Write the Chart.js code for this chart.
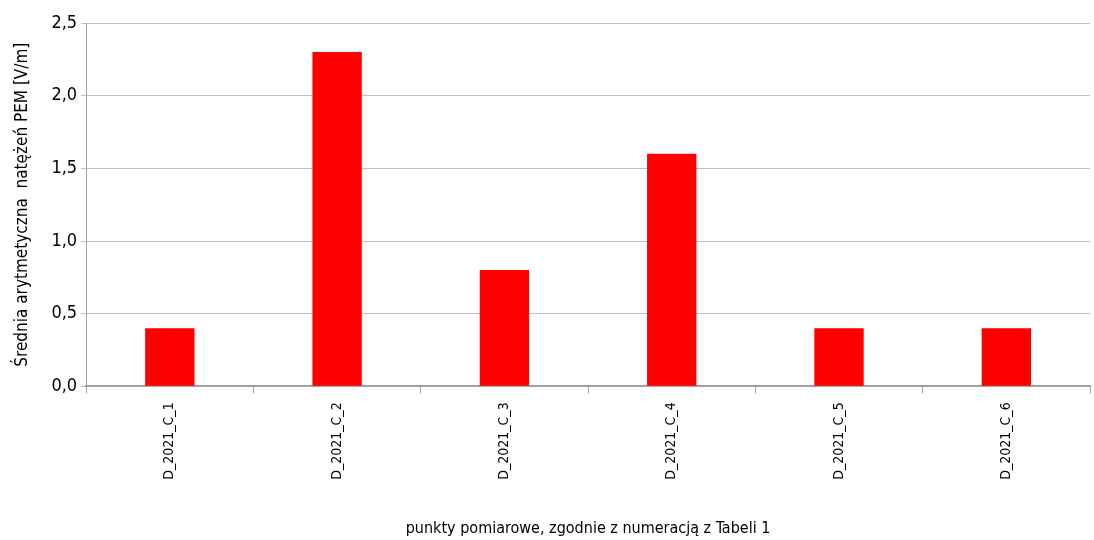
<!DOCTYPE html>
<html>
<head>
<meta charset="utf-8">
<script src="https://cdn.jsdelivr.net/npm/chart.js@4/dist/chart.umd.min.js"></script>
<style>
  html, body { margin: 0; padding: 0; background: #fff; }
  #wrap { width: 1094px; height: 540px; }
</style>
</head>
<body>
<div id="wrap"><canvas id="chart" width="1094" height="540"></canvas></div>
<script>
const categories = ['D_2021_C_1', 'D_2021_C_2', 'D_2021_C_3', 'D_2021_C_4', 'D_2021_C_5', 'D_2021_C_6'];
const meanValues = [0.4, 2.3, 0.8, 1.6, 0.4, 0.4];
const yTicks = [0, 0.5, 1.0, 1.5, 2.0, 2.5];

const fontFamily = '"Liberation Sans Narrow", "DejaVu Sans Condensed", "Liberation Sans", sans-serif';
const axisGray = '#a0a0a0';

const ctx = document.getElementById('chart').getContext('2d');
new Chart(ctx, {
    type: 'bar',
    data: {
        labels: categories,
        datasets: [{
            data: meanValues,
            backgroundColor: '#ff0000',
            borderWidth: 0,
            categoryPercentage: 1,
            barPercentage: 0.295
        }]
    },
    options: {
        responsive: false,
        animation: false,
        layout: { padding: { top: 23, right: 4, bottom: 2, left: 12 } },
        plugins: {
            legend: { display: false },
            tooltip: { enabled: false }
        },
        scales: {
            x: {
                offset: true,
                grid: {
                    offset: true,
                    drawOnChartArea: false,
                    color: axisGray,
                    tickLength: 7
                },
                border: { color: axisGray, width: 2 },
                ticks: {
                    color: '#000',
                    font: { family: fontFamily, size: 14 },
                    minRotation: 90,
                    maxRotation: 90,
                    padding: 9
                },
                title: {
                    display: true,
                    text: 'punkty pomiarowe, zgodnie z numeracją z Tabeli 1',
                    color: '#000',
                    font: { family: fontFamily, size: 16 },
                    padding: { top: 30, bottom: 0 }
                }
            },
            y: {
                min: 0,
                max: 2.5,
                afterBuildTicks: axis => { axis.ticks = yTicks.map(v => ({ value: v })); },
                grid: {
                    color: '#c0c0c0',
                    tickLength: 5,
                    lineWidth: 1
                },
                border: { color: axisGray, width: 1 },
                ticks: {
                    color: '#000',
                    font: { family: fontFamily, size: 18 },
                    padding: 4,
                    callback: v => v.toFixed(1).replace('.', ',')
                },
                title: {
                    display: true,
                    text: 'Średnia arytmetyczna  natężeń PEM [V/m]',
                    color: '#000',
                    font: { family: fontFamily, size: 17 },
                    padding: { top: 0, bottom: 15 }
                }
            }
        }
    }
});
</script>
</body>
</html>
